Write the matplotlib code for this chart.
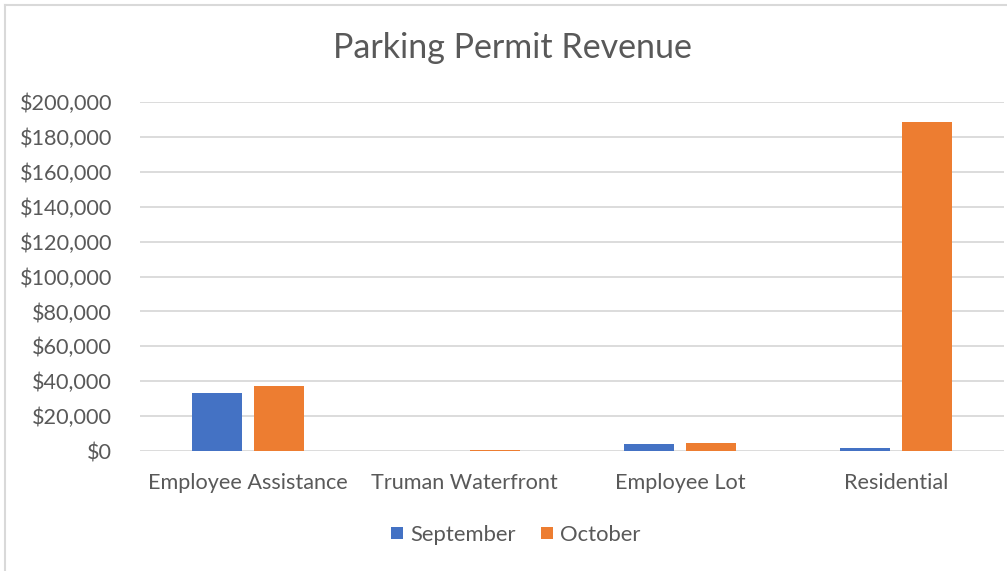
import matplotlib
matplotlib.use("Agg")
import matplotlib.pyplot as plt
import numpy as np
from matplotlib.ticker import FuncFormatter
from matplotlib.lines import Line2D

categories = ["Employee Assistance", "Truman Waterfront", "Employee Lot", "Residential"]
september = [33500, 150, 4000, 1700]
october = [37000, 350, 4400, 188500]
series_names = ["September", "October"]
colors = ["#4472C4", "#ED7D31"]
title = "Parking Permit Revenue"
yticks = list(range(0, 200001, 20000))

plt.rcParams['font.family'] = ['Lato', 'DejaVu Sans']
text_color = "#595959"

fig = plt.figure(figsize=(10.07, 5.71), dpi=100)
ax = fig.add_axes([140/1007, (571-451)/571, (1004-140)/1007, (451-102)/571])

x = np.arange(len(categories))
w = 0.227
off = 0.1435
ax.bar(x - off, september, width=w, color=colors[0], zorder=3, label=series_names[0])
ax.bar(x + off, october, width=w, color=colors[1], zorder=3, label=series_names[1])

ax.set_xlim(-0.5, len(categories) - 0.5)
ax.set_ylim(0, 200000)
ax.set_yticks(yticks)
ax.yaxis.set_major_formatter(FuncFormatter(lambda v, p: "${:,.0f}".format(v)))
ax.grid(axis='y', color="#D9D9D9", linewidth=1.3, zorder=0)
for s in ax.spines.values():
    s.set_visible(False)
ax.tick_params(axis='both', length=0, labelsize=15.6, colors=text_color)
ax.tick_params(axis='y', pad=20)
ax.tick_params(axis='x', pad=16)
ax.set_xticks(x)
ax.set_xticklabels(categories)

fig.text(512/1007, 1 - 48/571, title, ha='center', va='center', fontsize=24.5, color=text_color)

handles = [Line2D([], [], marker='s', markersize=8.6, linestyle='none',
                  markerfacecolor=c, markeredgecolor=c, markeredgewidth=0) for c in colors]
fig.legend(handles, series_names, loc='center', bbox_to_anchor=(516/1007, 1 - 535/571),
           ncol=2, frameon=False, fontsize=15.8, labelcolor=text_color,
           handlelength=0.55, handletextpad=0.32, columnspacing=1.15)

# chart border (left and top visible)
fig.add_artist(Line2D([5/1007, 5/1007], [0, 1 - 5/571], transform=fig.transFigure, color="#D9D9D9", linewidth=1.5))
fig.add_artist(Line2D([5/1007, 1], [1 - 5/571, 1 - 5/571], transform=fig.transFigure, color="#D9D9D9", linewidth=1.5))

fig.savefig("out.png", dpi=100, facecolor="white")
